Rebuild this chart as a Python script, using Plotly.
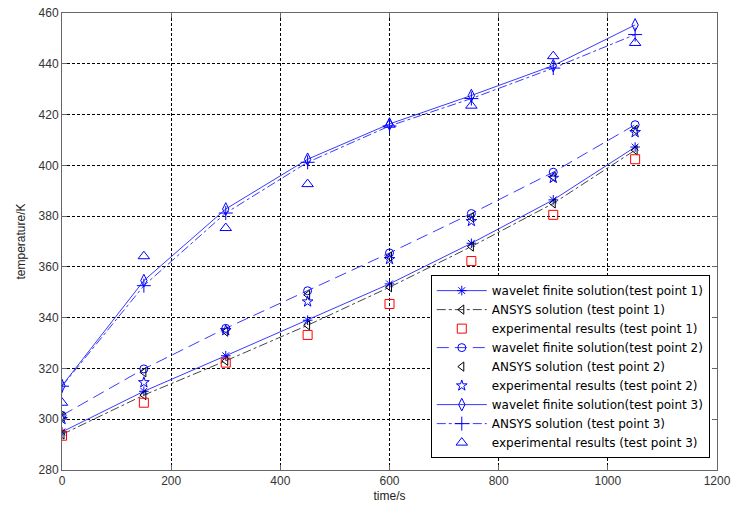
import plotly.graph_objects as go

time_s = [0, 150, 300, 450, 600, 750, 900, 1050]

wavelet_1 = [295, 311, 325, 339, 353.3, 369.3, 386.4, 407.2]
ansys_1 = [294, 309.5, 323, 337, 352, 368, 385, 406]
exp_1 = [293.5, 306.5, 322.3, 333.2, 345.4, 362.3, 380.5, 402.4]

wavelet_2 = [301.5, 319.8, 335.8, 350.6, 365.5, 381, 397.3, 416]
ansys_2 = [301, 318.5, 334.5, 349, 364, 379.5, 395.5, 414]
exp_2 = [300, 314.5, 335, 346.3, 363, 378, 395, 413]

wavelet_3 = [313.2, 354.6, 382.8, 402.4, 416.3, 427.5, 439.3, 455.3]
ansys_3 = [313, 352.6, 381.2, 401.2, 415.5, 426.3, 438.3, 451.5]
exp_3 = [306.5, 364.2, 375.3, 392.6, 416, 423.5, 443, 448.2]

names = [
    "wavelet finite solution(test point 1)",
    "ANSYS solution (test point 1)",
    "experimental results (test point 1)",
    "wavelet finite solution(test point 2)",
    "ANSYS solution (test point 2)",
    "experimental results (test point 2)",
    "wavelet finite solution(test point 3)",
    "ANSYS solution (test point 3)",
    "experimental results (test point 3)",
]

BLUE = "#0000ff"
LBLUE = "#3a3aff"
BLACK = "#000000"
RED = "#ff0000"

fig = go.Figure()

def add(y, name, mode, color, symbol, dash=None, msize=8, lcolor=None):
    kw = dict(x=time_s, y=y, name=name, mode=mode,
              marker=dict(symbol=symbol, size=msize, color=color,
                          line=dict(color=color, width=1)))
    if "lines" in mode:
        kw["line"] = dict(color=lcolor or color, width=1, dash=dash)
    fig.add_trace(go.Scatter(**kw))

add(wavelet_1, names[0], "lines+markers", BLUE, "asterisk-open", "solid", lcolor=LBLUE)
add(ansys_1, names[1], "lines+markers", BLACK, "triangle-left-open", "dashdot", lcolor="#444444")
add(exp_1, names[2], "markers", RED, "square-open", msize=9)
add(wavelet_2, names[3], "lines+markers", BLUE, "circle-open", "12px,6px", lcolor=LBLUE)
add(ansys_2, names[4], "markers", BLACK, "triangle-left-open")
add(exp_2, names[5], "markers", BLUE, "star-open", msize=8)
add(wavelet_3, names[6], "lines+markers", BLUE, "diamond-tall-open", "solid", msize=9, lcolor=LBLUE)
add(ansys_3, names[7], "lines+markers", BLUE, "cross-thin-open", "dashdot", msize=10, lcolor=LBLUE)
add(exp_3, names[8], "markers", BLUE, "triangle-up-open", msize=10)

axis_common = dict(
    showline=True, linecolor="#666666", linewidth=1, mirror="allticks",
    ticks="inside", ticklen=5, tickcolor="#666666",
    showgrid=True, gridcolor="#000000", gridwidth=1, griddash="3px,2px",
    zeroline=False, automargin=False,
    tickfont=dict(family="Liberation Sans, Arial", size=12, color="#333333"),
)

fig.update_layout(
    width=734, height=513,
    margin=dict(l=62, r=17, t=13, b=43),
    paper_bgcolor="white", plot_bgcolor="white",
    font=dict(family="Liberation Sans, Arial", size=12, color="#222222"),
    xaxis=dict(range=[0, 1200], dtick=200, title=dict(text="time/s", standoff=4,
               font=dict(size=12, color="#222222")), **axis_common),
    yaxis=dict(range=[280, 460], dtick=20, title=dict(text="temperature/K", standoff=10,
               font=dict(size=12, color="#222222")), **axis_common),
    legend=dict(x=0.989, y=0.026, xanchor="right", yanchor="bottom",
                bgcolor="white", bordercolor="#000000", borderwidth=1,
                font=dict(family="DejaVu Sans", size=12, color="#000000"),
                tracegroupgap=0, itemwidth=50),
)

fig.write_html("out.html", config={"displayModeBar": False},
               post_script="document.body.style.margin='0';")
